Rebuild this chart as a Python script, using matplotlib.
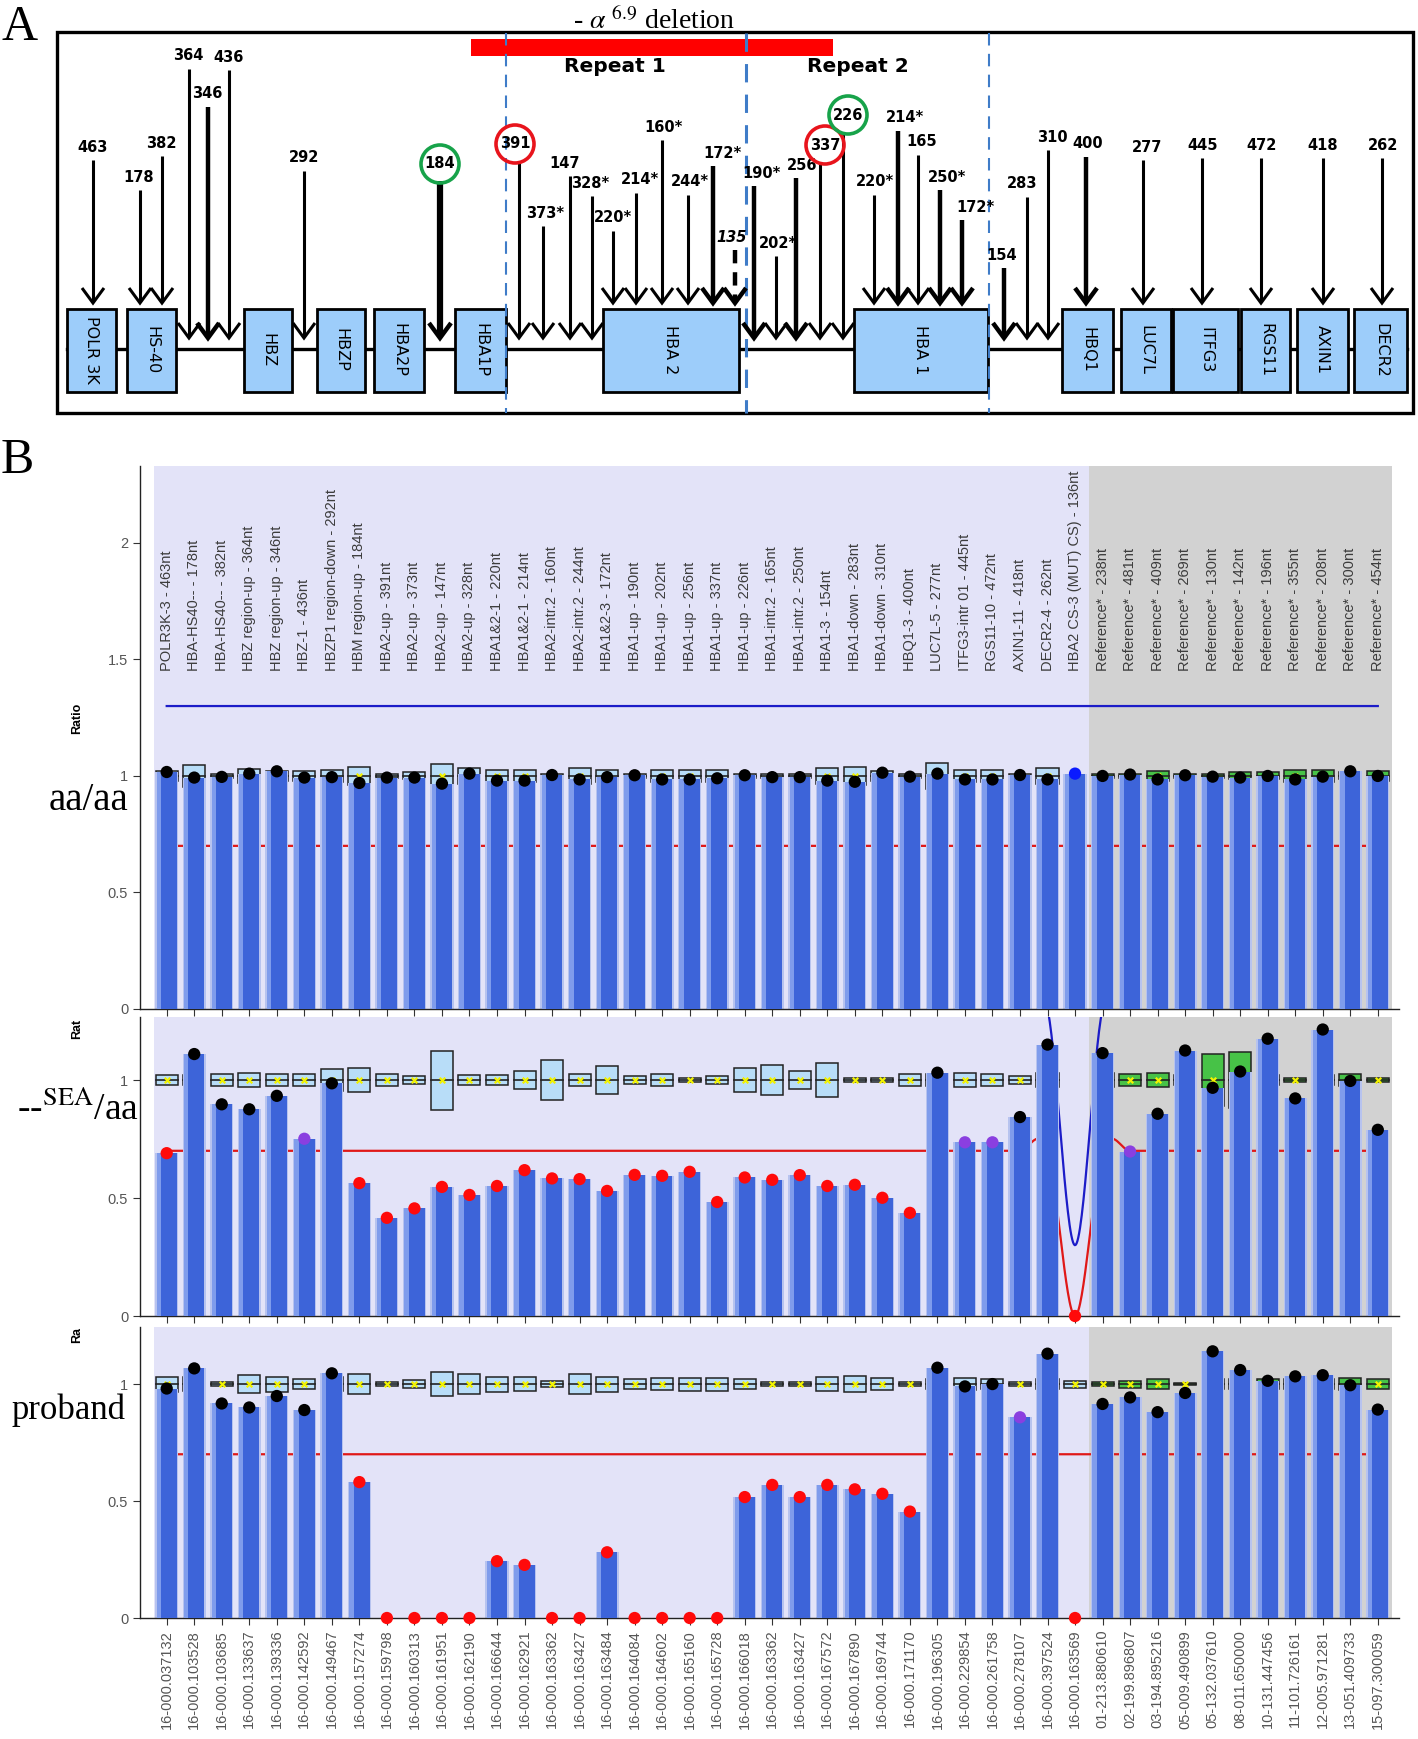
import numpy as np
import matplotlib
matplotlib.use('Agg')
import matplotlib.pyplot as plt
from matplotlib.patches import Rectangle, Circle

plt.rcParams['font.family'] = ['Liberation Sans', 'DejaVu Sans']
plt.rcParams['mathtext.fontset'] = 'stix'

W, H = 1418, 1739

# ---------------- panel A: gene map (diagram units = pixels of the figure) ----------------
genes = ['POLR 3K', 'HS-40', 'HBZ', 'HBZP', 'HBA2P', 'HBA1P', 'HBA 2', 'HBA 1',
         'HBQ1', 'LUC7L', 'ITFG3', 'RGS11', 'AXIN1', 'DECR2']
gene_start = [67, 127, 244, 317, 374, 455, 603, 854, 1062, 1121, 1173, 1241, 1297, 1354]
gene_end = [116, 176, 292, 365, 424, 506, 739, 988, 1113, 1171, 1238, 1290, 1348, 1407]
repeat_bounds = [506, 746, 989]
deletion_span = [471, 833]

a_probes = ['463', '178', '382', '364', '346', '436', '292', '184', '391', '373*', '147', '328*',
            '220*', '214*', '160*', '244*', '172*', '135', '190*', '202*', '256', '337', '226',
            '220*', '214*', '165', '250*', '172*', '154', '283', '310', '400', '277', '445',
            '472', '418', '262']
a_probe_x = [93, 140, 162, 189, 208, 229, 304, 440, 519, 543, 570, 592, 613, 636, 662, 688, 713,
             735, 754, 776, 796, 820, 843, 874, 898, 918, 940, 962, 1004, 1027, 1048, 1086, 1143,
             1202, 1261, 1323, 1382]
a_label_x = [93, 139, 161, 188, 207, 229, 304, 440, 515, 545, 565, 590, 613, 640, 664, 690, 722,
             732, 762, 778, 802, 825, 848, 875, 905, 922, 947, 975, 1002, 1022, 1052, 1088, 1147,
             1203, 1262, 1323, 1383]
a_label_y = [147, 177, 143, 56, 94, 57, 158, 164, 144, 213, 163, 183, 218, 180, 127, 182, 153,
             237, 173, 243, 165, 145, 115, 182, 118, 142, 177, 207, 255, 184, 137, 144, 147, 145,
             145, 145, 145]
# 1 = probe lies inside a gene box, 0 = on the intergenic line
a_in_gene = [1, 1, 1, 0, 0, 0, 0, 0, 0, 0, 0, 0, 1, 1, 1, 1, 1, 1, 0, 0, 0, 0, 0,
             1, 1, 1, 1, 1, 0, 0, 0, 1, 1, 1, 1, 1, 1]
thick_probes = {4, 16, 17, 18, 20, 24, 26, 27, 28, 31}
circled = {7: '#17a34a', 8: '#e8141c', 21: '#e8141c', 22: '#17a34a'}

# ---------------- panel B: MLPA ratios ----------------
probe_names = ['POLR3K-3 - 463nt', 'HBA-HS40-- - 178nt', 'HBA-HS40-- - 382nt',
               'HBZ region-up - 364nt', 'HBZ region-up - 346nt', 'HBZ-1 - 436nt',
               'HBZP1 region-down - 292nt', 'HBM region-up - 184nt', 'HBA2-up - 391nt',
               'HBA2-up - 373nt', 'HBA2-up - 147nt', 'HBA2-up - 328nt', 'HBA1&2-1 - 220nt',
               'HBA1&2-1 - 214nt', 'HBA2-intr.2 - 160nt', 'HBA2-intr.2 - 244nt',
               'HBA1&2-3 - 172nt', 'HBA1-up - 190nt', 'HBA1-up - 202nt', 'HBA1-up - 256nt',
               'HBA1-up - 337nt', 'HBA1-up - 226nt', 'HBA1-intr.2 - 165nt', 'HBA1-intr.2 - 250nt',
               'HBA1-3 - 154nt', 'HBA1-down - 283nt', 'HBA1-down - 310nt', 'HBQ1-3 - 400nt',
               'LUC7L-5 - 277nt', 'ITFG3-intr 01 - 445nt', 'RGS11-10 - 472nt', 'AXIN1-11 - 418nt',
               'DECR2-4 - 262nt', 'HBA2 CS-3 (MUT) CS) - 136nt',
               'Reference* - 238nt', 'Reference* - 481nt', 'Reference* - 409nt',
               'Reference* - 269nt', 'Reference* - 130nt', 'Reference* - 142nt',
               'Reference* - 196nt', 'Reference* - 355nt', 'Reference* - 208nt',
               'Reference* - 300nt', 'Reference* - 454nt']
chrom_pos = ['16-000.037132', '16-000.103528', '16-000.103685', '16-000.133637', '16-000.139336',
             '16-000.142592', '16-000.149467', '16-000.157274', '16-000.159798', '16-000.160313',
             '16-000.161951', '16-000.162190', '16-000.166644', '16-000.162921', '16-000.163362',
             '16-000.163427', '16-000.163484', '16-000.164084', '16-000.164602', '16-000.165160',
             '16-000.165728', '16-000.166018', '16-000.163362', '16-000.163427', '16-000.167572',
             '16-000.167890', '16-000.169744', '16-000.171170', '16-000.196305', '16-000.229854',
             '16-000.261758', '16-000.278107', '16-000.397524', '16-000.163569',
             '01-213.880610', '02-199.896807', '03-194.895216', '05-009.490899', '05-132.037610',
             '08-011.650000', '10-131.447456', '11-101.726161', '12-005.971281', '13-051.409733',
             '15-097.300059']
n_test = 34  # target probes before the reference probes

ratio_aa = [1.017, 0.993, 0.996, 1.01, 1.02, 0.993, 0.995, 0.97, 0.993, 0.993, 0.967, 1.01,
            0.98, 0.98, 1.004, 0.985, 0.995, 1.003, 0.985, 0.985, 0.99, 1.003, 0.995, 0.995,
            0.98, 0.975, 1.014, 0.997, 1.01, 0.985, 0.985, 1.004, 0.985, 1.01, 1.0, 1.006,
            0.985, 1.003, 0.997, 0.993, 1.0, 0.985, 0.997, 1.02, 1.0]
ratio_sea = [0.69, 1.11, 0.897, 0.876, 0.933, 0.751, 0.986, 0.563, 0.416, 0.456, 0.547, 0.513,
             0.551, 0.618, 0.583, 0.58, 0.53, 0.598, 0.594, 0.611, 0.483, 0.587, 0.577, 0.597,
             0.551, 0.556, 0.501, 0.437, 1.031, 0.736, 0.736, 0.843, 1.15, 0.0, 1.114, 0.697,
             0.857, 1.125, 0.967, 1.036, 1.175, 0.922, 1.214, 0.996, 0.789]
ratio_proband = [0.981, 1.067, 0.917, 0.9, 0.949, 0.889, 1.046, 0.581, 0.0, 0.0, 0.0, 0.0,
                 0.243, 0.227, 0.0, 0.0, 0.281, 0.0, 0.0, 0.0, 0.0, 0.517, 0.569, 0.517,
                 0.569, 0.55, 0.531, 0.455, 1.07, 0.99, 1.0, 0.858, 1.13, 0.0, 0.915, 0.943,
                 0.88, 0.962, 1.14, 1.06, 1.014, 1.033, 1.038, 0.995, 0.891]

# calls: n = normal, d = deletion, b = borderline, m = mutation probe signal
call_aa = "nnnnnnnnnn nnnnnnnnnn nnnnnnnnnn nnnm nnnnnnnnnn n".replace(' ', '')
call_sea = "d nnnn b n ddddddddddddddddddddd n bb nn d n b nnnnnnnnn".replace(' ', '')
call_proband = "nnnnnnn ddddddddddddddddddddd nnn b n d nnnnnnnnnnn".replace(' ', '')

# half height of the reference range box around ratio 1
spread_aa = [0.02, 0.047, 0.01, 0.03, 0.02, 0.02, 0.025, 0.04, 0.01, 0.015, 0.05, 0.035, 0.025,
             0.025, 0.01, 0.035, 0.025, 0.01, 0.025, 0.025, 0.025, 0.01, 0.01, 0.01, 0.035, 0.04,
             0.02, 0.01, 0.055, 0.025, 0.025, 0.01, 0.035, 0.0, 0.01, 0.01, 0.02, 0.01, 0.01,
             0.015, 0.015, 0.025, 0.025, 0.015, 0.02]
spread_sea = [0.02, 0.02, 0.027, 0.03, 0.024, 0.024, 0.045, 0.052, 0.024, 0.015, 0.125, 0.02,
              0.02, 0.037, 0.085, 0.024, 0.06, 0.015, 0.024, 0.01, 0.018, 0.05, 0.065, 0.037,
              0.07, 0.01, 0.01, 0.024, 0.024, 0.03, 0.024, 0.015, 0.03, 0.0, 0.03, 0.024, 0.03,
              0.02, 0.11, 0.12, 0.02, 0.01, 0.02, 0.025, 0.01]
spread_proband = [0.032, 0.03, 0.01, 0.037, 0.032, 0.021, 0.03, 0.041, 0.01, 0.016, 0.05, 0.041,
                  0.032, 0.031, 0.014, 0.043, 0.032, 0.021, 0.027, 0.028, 0.028, 0.02, 0.01,
                  0.01, 0.03, 0.035, 0.025, 0.01, 0.02, 0.025, 0.02, 0.01, 0.02, 0.015, 0.01,
                  0.015, 0.02, 0.005, 0.02, 0.02, 0.02, 0.02, 0.02, 0.025, 0.02]

# arbitrary-limit lines (upper / lower) per probe
upper_aa = [1.3] * 45
lower_aa = [0.7] * 45
upper_sea = [1.3] * 33 + [0.3] + [1.3] * 11
lower_sea = [0.7] * 33 + [0.0] + [0.7] * 11
upper_proband = [1.3] * 45
lower_proband = [0.7] * 45

dot_colors = {'n': 'black', 'd': '#ff0a0a', 'b': '#8a3fe0', 'm': '#0a1aff'}


def catmull_rom(yk, xs):
    # smooth curve through the per-probe limits (as drawn by the analysis software)
    y = np.asarray(yk, float)
    m = np.gradient(y)
    j = np.clip(np.floor(xs).astype(int), 0, len(y) - 2)
    t = xs - j
    h00 = 2 * t ** 3 - 3 * t ** 2 + 1
    h10 = t ** 3 - 2 * t ** 2 + t
    h01 = -2 * t ** 3 + 3 * t ** 2
    h11 = t ** 3 - t ** 2
    return h00 * y[j] + h10 * m[j] + h01 * y[j + 1] + h11 * m[j + 1]


fig = plt.figure(figsize=(W / 100, H / 100), dpi=100)


def px_axes(left, top, right, bottom):
    return fig.add_axes([left / W, 1 - bottom / H, (right - left) / W, (bottom - top) / H])


def ftext(x, y, s, **kw):
    fig.text(x / W, 1 - y / H, s, **kw)


# ======== panel A ========
axa = px_axes(0, 0, W, 420)
axa.set_xlim(0, W)
axa.set_ylim(420, 0)
axa.axis('off')
axa.add_patch(Rectangle((57, 32), 1356, 381, fill=False, lw=2.4, ec='black', zorder=1))
axa.plot([gene_start[0], gene_end[-1]], [349, 349], color='black', lw=2.4, zorder=1)
for name, g0, g1 in zip(genes, gene_start, gene_end):
    axa.add_patch(Rectangle((g0, 309), g1 - g0, 83, fc='#9dcdfa', ec='black', lw=2, zorder=2))
    axa.text((g0 + g1) / 2, 350, name, rotation=270, ha='center', va='center',
             fontsize=11.5, family=['DejaVu Sans'], zorder=3)
for i, xb in enumerate(repeat_bounds):
    axa.plot([xb, xb], [33, 413], color='#3f7cc8', lw=2.2 if i == 1 else 1.5,
             ls=(0, (6, 4)), zorder=4)
axa.add_patch(Rectangle((deletion_span[0], 39), deletion_span[1] - deletion_span[0], 17,
                        fc='#ff0000', ec='none', zorder=3))
axa.text(654, 29, r'- $\alpha$ $^{6.9}$ deletion', ha='center', va='baseline', fontsize=20,
         family=['Liberation Serif'])
axa.text(615, 67, 'Repeat 1', ha='center', va='center', fontsize=14.5, weight='bold',
         family=['DejaVu Sans'])
axa.text(858, 67, 'Repeat 2', ha='center', va='center', fontsize=14.5, weight='bold',
         family=['DejaVu Sans'])

for k, lab in enumerate(a_probes):
    x0 = a_probe_x[k]
    start = a_label_y[k] + (17 if k in circled else 13)
    tip = 303 if a_in_gene[k] else 338
    lw = 4.5 if k == 7 else (3.2 if k in thick_probes else 2.2)
    dashed = lab == '135'
    axa.plot([x0, x0], [start, tip - 2], color='black', lw=lw,
             ls=(0, (3, 2)) if dashed else '-', solid_capstyle='butt', zorder=5)
    # open "V" arrowhead
    axa.plot([x0 - 11, x0, x0 + 11], [tip - 15, tip, tip - 15], color='black',
             lw=min(lw, 3.2), solid_joinstyle='miter', solid_capstyle='butt', zorder=5)
    axa.text(a_label_x[k], a_label_y[k], lab, ha='center', va='center', fontsize=10.5,
             weight='bold', style='italic' if dashed else 'normal',
             family=['DejaVu Sans'], zorder=6)
    if k in circled:
        axa.add_patch(Circle((a_label_x[k], a_label_y[k]), 19, fill=False,
                             ec=circled[k], lw=2.6, zorder=6))

ftext(20, 28, 'A', fontsize=36, family=['Liberation Serif'], ha='center', va='center')
ftext(17, 461, 'B', fontsize=36, family=['Liberation Serif'], ha='center', va='center')

# ======== panel B ========
lav = '#e3e3f8'
grey = '#d2d2d2'
bar_c = '#3d64d9'
bar_light = '#7f9cec'
halo = '#b7c3ef'


def draw_ratio_panel(ax, ratios, calls, spread, lower, upper, ytop, yticks, ylabels):
    x = np.arange(len(ratios))
    ax.set_xlim(-0.97, 44.77)
    ax.set_ylim(0, ytop)
    ax.axvspan(-0.45, n_test - 0.5, color=lav, lw=0, zorder=0)
    ax.axvspan(n_test - 0.5, len(x) - 0.5, color=grey, lw=0, zorder=0)
    for i, s in enumerate(spread):
        fc = '#47c247' if i >= n_test else '#b8ddf8'
        if s > 0:
            ax.add_patch(Rectangle((i - 0.4, 1 - s), 0.8, 2 * s, fc=fc, ec='#222222',
                                   lw=1.1, zorder=1.5))
            ax.plot([i - 0.4, i + 0.4], [1, 1], color='#222222', lw=1.2, zorder=1.6)
    mask = np.asarray(spread) > 0
    ax.scatter(x[mask], np.ones(mask.sum()), marker='x', s=16, color='#f2f200', lw=1.6,
               zorder=1.7)
    xs = np.linspace(0, len(x) - 1, 1400)
    ax.plot(xs, catmull_rom(lower, xs), color='#e01818', lw=1.6, zorder=2)
    ax.plot(xs, catmull_rom(upper, xs), color='#1c1cc8', lw=1.6, zorder=2)
    ax.bar(x, ratios, width=0.84, color=halo, zorder=2.5)
    ax.bar(x, ratios, width=0.74, color=bar_c, zorder=3)
    ax.bar(x - 0.29, ratios, width=0.16, color=bar_light, zorder=3.1)
    ax.scatter(x, ratios, s=78, c=[dot_colors[c] for c in calls], lw=0, zorder=5,
               clip_on=False)
    for side in ('top', 'right'):
        ax.spines[side].set_visible(False)
    for side in ('left', 'bottom'):
        ax.spines[side].set_color('#222222')
        ax.spines[side].set_linewidth(1.0)
    ax.set_xticks(x)
    ax.set_xticklabels([])
    ax.set_yticks(yticks)
    ax.set_yticklabels(ylabels)
    ax.tick_params(axis='both', length=5, color='#333333', labelsize=10.5,
                   labelcolor='#555555')


ax1 = px_axes(140, 466, 1399, 1009)
draw_ratio_panel(ax1, ratio_aa, call_aa, spread_aa, lower_aa, upper_aa, 2.33,
                 [0, 0.5, 1, 1.5, 2], ['0', '0.5', '1', '1.5', '2'])
for i, name in enumerate(probe_names):
    ax1.text(i, 1.45, name, rotation=90, ha='center', va='bottom', fontsize=10.5,
             color='#3c3c3c', zorder=4)

ax2 = px_axes(140, 1017, 1399, 1316)
draw_ratio_panel(ax2, ratio_sea, call_sea, spread_sea, lower_sea, upper_sea, 1.267,
                 [0, 0.5, 1], ['0', '0.5', '1'])

ax3 = px_axes(140, 1327, 1399, 1618)
draw_ratio_panel(ax3, ratio_proband, call_proband, spread_proband, lower_proband,
                 upper_proband, 1.244, [0, 0.5, 1], ['0', '0.5', '1'])
ax3.set_xticklabels(chrom_pos, rotation=90, fontsize=10.5, color='#555555')

# truncated axis titles and genotype labels
ftext(77, 718, 'Ratio', rotation=90, fontsize=9, weight='bold', ha='center', va='center')
ftext(77, 1029, 'Rat', rotation=90, fontsize=9, weight='bold', ha='center', va='center')
ftext(77, 1335, 'Ra', rotation=90, fontsize=9, weight='bold', ha='center', va='center')
ftext(88, 800, 'aa/aa', fontsize=28, family=['Liberation Serif'], ha='center', va='center')
ftext(78, 1110, r'--$^{\mathrm{SEA}}$/aa', fontsize=27, family=['Liberation Serif'],
      ha='center', va='center')
ftext(68, 1410, 'proband', fontsize=25, family=['Liberation Serif'], ha='center', va='center')

fig.savefig('out.png', dpi=100)
